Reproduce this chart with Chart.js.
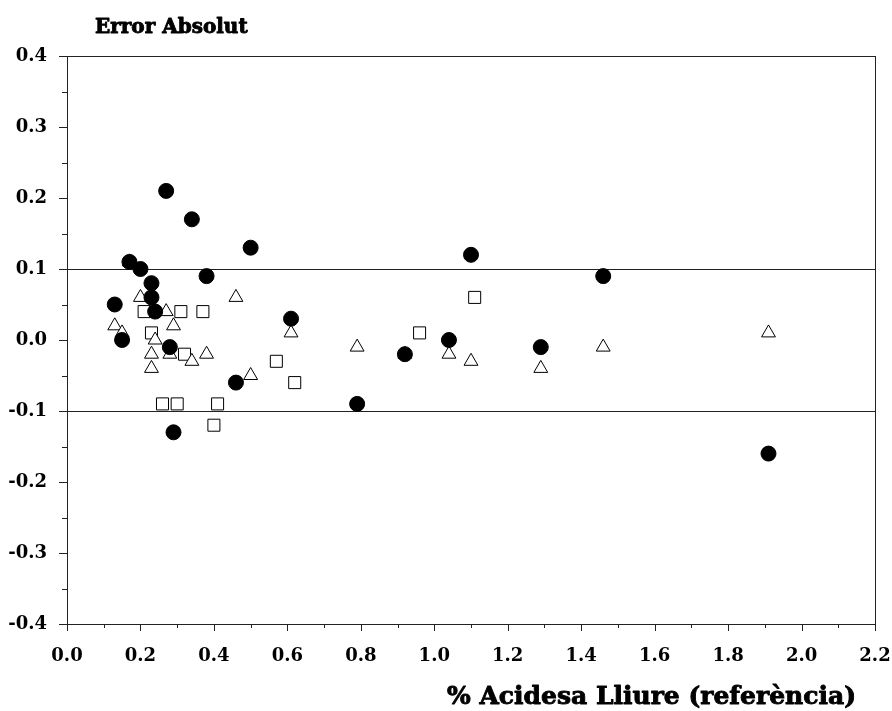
<!DOCTYPE html>
<html><head><meta charset="utf-8">
<script src="https://cdn.jsdelivr.net/npm/chart.js@4.4.0/dist/chart.umd.min.js"></script>
<style>html,body{margin:0;padding:0;background:#fff}#wrap{width:892px;height:711px}</style>
</head><body><div id="wrap"><canvas id="c" width="892" height="711"></canvas></div>
<script>
const circX = [0.13,0.15,0.17,0.20,0.23,0.23,0.24,0.27,0.28,0.29,0.34,0.38,0.46,0.50,0.61,0.79,0.92,1.04,1.10,1.29,1.46,1.91];
const circY = [0.05,0.00,0.11,0.10,0.08,0.06,0.04,0.21,-0.01,-0.13,0.17,0.09,-0.06,0.13,0.03,-0.09,-0.02,0.00,0.12,-0.01,0.09,-0.16];
const triX = [0.13,0.15,0.17,0.20,0.23,0.23,0.24,0.27,0.28,0.29,0.34,0.38,0.46,0.50,0.61,0.79,0.92,1.04,1.10,1.29,1.46,1.91];
const triY = [0.02,0.01,0.11,0.06,-0.02,-0.04,0.00,0.04,-0.02,0.02,-0.03,-0.02,0.06,-0.05,0.01,-0.01,-0.02,-0.02,-0.03,-0.04,-0.01,0.01];
const sqX = [0.21,0.23,0.26,0.30,0.31,0.32,0.37,0.40,0.41,0.57,0.62,0.96,1.11];
const sqY = [0.04,0.01,-0.09,-0.09,0.04,-0.02,0.04,-0.12,-0.09,-0.03,-0.06,0.01,0.06];
const refLines = [0.1, -0.1];
const xTicks = [0.0,0.2,0.4,0.6,0.8,1.0,1.2,1.4,1.6,1.8,2.0,2.2];
const yTicks = [-0.4,-0.3,-0.2,-0.1,0.0,0.1,0.2,0.3,0.4];
const yTitle = 'Error Absolut';
const xTitle = '% Acidesa Lliure (referència)';

const pts = (xs, ys) => xs.map((x, i) => ({x, y: ys[i]}));
const FONT = '"DejaVu Serif", serif';

const decor = {
  id: 'decor',
  beforeDatasetsDraw(chart) {
    const {ctx, chartArea: a, scales: {x, y}} = chart;
    ctx.save();
    ctx.strokeStyle = '#222';
    ctx.lineWidth = 1;
    refLines.forEach(v => {
      const py = Math.round(y.getPixelForValue(v)) + 0.5;
      ctx.beginPath(); ctx.moveTo(a.left, py); ctx.lineTo(a.right, py); ctx.stroke();
    });
    ctx.restore();
  },
  afterDraw(chart) {
    const {ctx, chartArea: a, scales: {x, y}} = chart;
    ctx.save();
    ctx.strokeStyle = '#222';
    ctx.lineWidth = 1;
    ctx.strokeRect(Math.round(a.left) + 0.5, Math.round(a.top) + 0.5, Math.round(a.right - a.left), Math.round(a.bottom - a.top));
    for (let i = 0; i <= 22; i++) {
      const px = Math.round(x.getPixelForValue(i / 10)) + 0.5;
      const len = (i % 2 === 0) ? 7 : 4;
      ctx.beginPath(); ctx.moveTo(px, a.bottom); ctx.lineTo(px, a.bottom + len); ctx.stroke();
    }
    for (let i = -8; i <= 8; i++) {
      const py = Math.round(y.getPixelForValue(i / 20)) + 0.5;
      const len = (i % 2 === 0) ? 8 : 5;
      ctx.beginPath(); ctx.moveTo(a.left - len, py); ctx.lineTo(a.left, py); ctx.stroke();
    }
    ctx.fillStyle = '#000';
    ctx.strokeStyle = '#000';
    ctx.lineWidth = 0.9;
    ctx.lineJoin = 'round';
    ctx.textBaseline = 'alphabetic';
    ctx.font = 'bold 20px ' + FONT;
    ctx.textAlign = 'left';
    ctx.fillText(yTitle, 95, 33);
    ctx.strokeText(yTitle, 95, 33);
    ctx.font = 'bold 25px ' + FONT;
    ctx.textAlign = 'right';
    ctx.fillText(xTitle, 856, 704);
    ctx.strokeText(xTitle, 856, 704);
    ctx.restore();
  }
};

new Chart(document.getElementById('c'), {
  type: 'scatter',
  data: {
    datasets: [
      {label: 'circles', data: pts(circX, circY), pointStyle: 'circle', pointRadius: 7.5,
       backgroundColor: '#000', borderColor: '#000', borderWidth: 1},
      {label: 'triangles', data: pts(triX, triY), pointStyle: 'triangle', pointRadius: 8,
       backgroundColor: '#fff', borderColor: '#000', borderWidth: 1},
      {label: 'squares', data: pts(sqX, sqY), pointStyle: 'rect', pointRadius: 8.5,
       backgroundColor: '#fff', borderColor: '#000', borderWidth: 1}
    ]
  },
  options: {
    responsive: false,
    animation: false,
    layout: {padding: {top: 56, right: 17, left: 0, bottom: 0}},
    plugins: {legend: {display: false}, tooltip: {enabled: false}},
    scales: {
      x: {
        type: 'linear', min: 0, max: 2.2,
        afterBuildTicks: s => { s.ticks = xTicks.map(v => ({value: v})); },
        afterFit: s => { s.height = 87; s.paddingLeft = 0; s.paddingRight = 0; },
        grid: {display: false, drawTicks: false},
        border: {display: false},
        ticks: {color: '#000', padding: 22, font: {family: FONT, size: 18, weight: 'bold'},
                maxRotation: 0, autoSkip: false, callback: v => Number(v).toFixed(1)}
      },
      y: {
        type: 'linear', min: -0.4, max: 0.4,
        afterBuildTicks: s => { s.ticks = yTicks.map(v => ({value: v})); },
        afterFit: s => { s.width = 67; s.paddingTop = 0; s.paddingBottom = 0; },
        grid: {display: false, drawTicks: false},
        border: {display: false},
        ticks: {color: '#000', padding: 20, font: {family: FONT, size: 18, weight: 'bold'},
                autoSkip: false, callback: v => Number(v).toFixed(1)}
      }
    }
  },
  plugins: [decor]
});
</script></body></html>
